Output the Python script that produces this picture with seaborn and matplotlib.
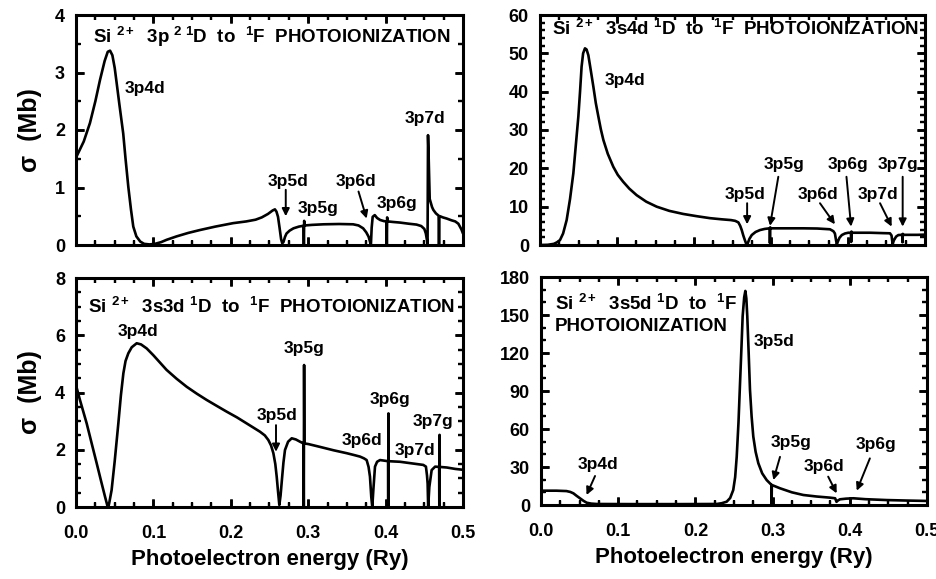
import matplotlib
matplotlib.use("Agg")
import matplotlib.pyplot as plt
from matplotlib.ticker import MultipleLocator
from matplotlib.transforms import blended_transform_factory
import seaborn as sns
import pandas as pd

# ---------------- data ----------------
x_3p2 = [0.000, 0.010, 0.018, 0.025, 0.031, 0.037, 0.041, 0.044, 0.047, 0.050, 0.0526, 0.056,
         0.061, 0.064, 0.0676, 0.071, 0.074, 0.078, 0.083, 0.088, 0.095, 0.102, 0.110, 0.117,
         0.130, 0.145, 0.160, 0.180, 0.203, 0.220, 0.232, 0.240, 0.248, 0.254, 0.257, 0.259,
         0.261, 0.263, 0.265, 0.2665, 0.268, 0.270, 0.272, 0.276, 0.281, 0.288, 0.2940, 0.2944,
         0.2948, 0.2955, 0.305, 0.320, 0.340, 0.358, 0.365, 0.371, 0.375, 0.378, 0.380, 0.381,
         0.382, 0.3833, 0.386, 0.389, 0.393, 0.398, 0.4012, 0.4016, 0.4020, 0.4028, 0.410,
         0.4186, 0.430, 0.440, 0.446, 0.450, 0.452, 0.4535, 0.4542, 0.4548, 0.4555, 0.4570,
         0.4600, 0.4617, 0.465, 0.4685, 0.4690, 0.4695, 0.4703, 0.474, 0.479, 0.485, 0.490,
         0.494, 0.498, 0.500]
y_3p2 = [1.52, 1.80, 2.12, 2.50, 2.87, 3.20, 3.36, 3.38, 3.30, 3.08, 2.81, 2.45,
         1.94, 1.50, 1.01, 0.62, 0.32, 0.15, 0.06, 0.02, 0.01, 0.02, 0.05, 0.09,
         0.15, 0.21, 0.26, 0.32, 0.38, 0.41, 0.44, 0.48, 0.54, 0.60, 0.62, 0.58,
         0.49, 0.30, 0.10, 0.03, 0.05, 0.14, 0.20, 0.25, 0.29, 0.32, 0.335, 0.0,
         0.42, 0.34, 0.35, 0.36, 0.365, 0.36, 0.34, 0.29, 0.22, 0.145, 0.05, 0.0,
         0.30, 0.49, 0.52, 0.47, 0.435, 0.415, 0.41, 0.0, 0.48, 0.41, 0.40,
         0.39, 0.37, 0.355, 0.33, 0.28, 0.20, 0.08, 0.02, 1.91, 1.60, 0.80,
         0.66, 0.61, 0.55, 0.51, 0.0, 0.50, 0.50, 0.48, 0.46, 0.43, 0.41,
         0.37, 0.27, 0.20]

x_3s4d = [0.000, 0.010, 0.018, 0.022, 0.026, 0.030, 0.0346, 0.039, 0.0433, 0.0465, 0.0498,
          0.052, 0.054, 0.056, 0.0584, 0.0605, 0.0628, 0.066, 0.0693, 0.0725, 0.0758, 0.079,
          0.0823, 0.088, 0.0952, 0.101, 0.108, 0.116, 0.1255, 0.138, 0.1515, 0.168, 0.186,
          0.204, 0.2208, 0.236, 0.248, 0.2535, 0.2576, 0.260, 0.262, 0.264, 0.266, 0.268,
          0.2695, 0.272, 0.275, 0.280, 0.2857, 0.292, 0.2983, 0.2986, 0.2990, 0.2995, 0.310,
          0.342, 0.360, 0.3766, 0.381, 0.383, 0.3845, 0.3855, 0.387, 0.389, 0.392, 0.396,
          0.4004, 0.4038, 0.4041, 0.4045, 0.4050, 0.4286, 0.445, 0.4545, 0.4565, 0.458,
          0.4595, 0.4625, 0.4654, 0.4705, 0.4708, 0.4712, 0.4716, 0.480, 0.490, 0.500]
y_3s4d = [0.0, 0.05, 0.3, 0.7, 1.3, 3.0, 6.5, 12.0, 18.7, 26.0, 33.5,
          40.0, 46.5, 50.0, 51.3, 51.0, 49.5, 45.5, 41.3, 37.0, 33.5, 30.2,
          27.4, 23.8, 20.4, 18.3, 16.5, 14.7, 13.0, 11.3, 10.0, 8.9, 8.1,
          7.5, 7.0, 6.7, 6.5, 6.3, 5.9, 5.0, 3.9, 2.5, 1.3, 0.2,
          0.3, 1.6, 2.6, 3.4, 3.9, 4.2, 4.35, 0.5, 4.6, 4.35, 4.35,
          4.35, 4.3, 4.1, 3.6, 3.0, 1.2, 0.2, 1.0, 1.9, 2.6, 3.0,
          3.2, 3.2, 0.8, 3.5, 3.2, 3.2, 3.1, 3.05, 2.5, 0.2,
          1.2, 2.2, 2.6, 2.65, 0.7, 2.9, 2.65, 2.65, 2.65, 2.7]

x_3s3d = [0.000, 0.005, 0.0138, 0.020, 0.0267, 0.032, 0.0375, 0.0405, 0.0418, 0.043, 0.046,
          0.050, 0.0547, 0.058, 0.0612, 0.064, 0.0676, 0.072, 0.0784, 0.084, 0.0913, 0.100,
          0.108, 0.117, 0.130, 0.143, 0.156, 0.1688, 0.182, 0.1947, 0.208, 0.2205, 0.230,
          0.2377, 0.244, 0.2485, 0.252, 0.255, 0.2575, 0.2593, 0.261, 0.2627, 0.2643, 0.266,
          0.268, 0.270, 0.274, 0.2787, 0.284, 0.2895, 0.2940, 0.2943, 0.2947, 0.2951, 0.300,
          0.3152, 0.333, 0.3497, 0.360, 0.367, 0.372, 0.3755, 0.378, 0.3798, 0.3815, 0.3828,
          0.3843, 0.3863, 0.389, 0.3928, 0.398, 0.4032, 0.4034, 0.4037, 0.4040, 0.4186, 0.435,
          0.4487, 0.4521, 0.4535, 0.4543, 0.4550, 0.4565, 0.4595, 0.464, 0.4692, 0.4694,
          0.4697, 0.4700, 0.479, 0.490, 0.500]
y_3s3d = [4.25, 3.75, 2.92, 2.25, 1.53, 0.95, 0.36, 0.05, 0.0, 0.15, 0.59,
          1.60, 2.92, 3.90, 4.67, 5.10, 5.37, 5.58, 5.72, 5.68, 5.54, 5.30,
          5.06, 4.79, 4.48, 4.20, 3.96, 3.74, 3.53, 3.33, 3.13, 2.92, 2.76,
          2.63, 2.50, 2.34, 2.15, 1.88, 1.50, 1.06, 0.55, 0.07, 0.40, 0.94,
          1.55, 1.99, 2.28, 2.40, 2.36, 2.28, 2.22, 0.0, 4.96, 2.22, 2.20,
          2.10, 1.98, 1.88, 1.81, 1.76, 1.70, 1.64, 1.40, 1.06, 0.35, 0.0,
          0.65, 1.41, 1.58, 1.64, 1.62, 1.60, 0.0, 3.27, 1.60, 1.58, 1.52,
          1.47, 1.41, 1.10, 0.82, 0.0, 0.70, 1.29, 1.41, 1.40, 0.0,
          2.52, 1.40, 1.38, 1.33, 1.30]

x_3s5d = [0.000, 0.020, 0.033, 0.038, 0.042, 0.046, 0.0505, 0.055, 0.0592, 0.065, 0.072,
          0.120, 0.180, 0.2276, 0.2340, 0.2405, 0.245, 0.249, 0.2515, 0.2535, 0.2558, 0.2578,
          0.2597, 0.2612, 0.2632, 0.2647, 0.2660, 0.2672, 0.2690, 0.2707, 0.2728, 0.275,
          0.278, 0.2815, 0.2865, 0.2923, 0.2985, 0.2987, 0.2990, 0.3096, 0.325, 0.3398,
          0.357, 0.3744, 0.381, 0.3828, 0.3845, 0.3873, 0.395, 0.4046, 0.420, 0.4478,
          0.475, 0.500]
y_3s5d = [11.3, 11.3, 11.0, 10.3, 9.2, 7.3, 5.3, 3.3, 1.8, 1.1, 0.8,
          0.7, 0.7, 0.8, 1.4, 2.6, 5.5, 11.8, 22, 38, 65, 96,
          125, 149, 164, 169, 163, 149, 120, 91, 70, 54,
          42, 33, 25, 19.7, 15.9, 0.5, 15.8, 13.2, 10.0, 7.9,
          6.7, 5.8, 5.3, 2.5, 3.5, 4.5, 5.0, 5.3, 4.6, 3.9,
          3.5, 3.2]

x_ticks = [0.0, 0.1, 0.2, 0.3, 0.4, 0.5]
x_tick_labels = ["0.0", "0.1", "0.2", "0.3", "0.4", "0.5"]

# ---------------- style ----------------
sns.set_theme(style="ticks")
plt.rcParams.update({
    "font.family": ["Liberation Sans", "DejaVu Sans"],
    "font.weight": "bold",
    "text.color": "black",
    "axes.labelcolor": "black",
    "axes.edgecolor": "black",
    "axes.axisbelow": False,
    "xtick.color": "black",
    "ytick.color": "black",
    "xtick.labelcolor": "black",
    "ytick.labelcolor": "black",
    "xtick.labelsize": 13,
    "ytick.labelsize": 13,
    "xtick.major.pad": 13,
    "ytick.major.pad": 8,
    "xtick.direction": "in",
    "ytick.direction": "in",
    "xtick.top": True,
    "ytick.right": True,
    "xtick.major.size": 6,
    "ytick.major.size": 6,
    "xtick.minor.size": 3.3,
    "ytick.minor.size": 3.3,
    "xtick.major.width": 1.8,
    "ytick.major.width": 1.8,
    "xtick.minor.width": 1.6,
    "ytick.minor.width": 1.6,
    "mathtext.fontset": "custom",
    "mathtext.rm": "Liberation Sans:bold",
    "mathtext.it": "Liberation Sans:bold",
    "mathtext.bf": "Liberation Sans:bold",
})

fig = plt.figure(figsize=(9.37, 5.79), dpi=100)
W, H = 937.0, 579.0


def make_ax(l, r, t, b):
    return fig.add_axes([l / W, 1 - b / H, (r - l) / W, (b - t) / H])


def frame_ticks(ax, xlim, ylim, maj_px=8.0, min_px=4.5):
    """Inward tick marks on all four sides, at the axis locators' positions."""
    pos = ax.get_position()
    wpx, hpx = pos.width * W, pos.height * H
    tx = blended_transform_factory(ax.transData, ax.transAxes)
    ty = blended_transform_factory(ax.transAxes, ax.transData)
    kw = dict(color="black", clip_on=False, zorder=6, solid_capstyle="butt")
    eps = 1e-9
    for locs, L, lw in ((ax.xaxis.get_majorticklocs(), maj_px, 1.9),
                        (ax.xaxis.get_minorticklocs(), min_px, 1.6)):
        for v in locs:
            if xlim[0] - eps <= v <= xlim[1] + eps:
                f = L / hpx
                ax.plot([v, v], [0, f], transform=tx, lw=lw, **kw)
                ax.plot([v, v], [1, 1 - f], transform=tx, lw=lw, **kw)
    for locs, L, lw in ((ax.yaxis.get_majorticklocs(), maj_px, 1.9),
                        (ax.yaxis.get_minorticklocs(), min_px, 1.6)):
        for v in locs:
            if ylim[0] - eps <= v <= ylim[1] + eps:
                f = L / wpx
                ax.plot([0, f], [v, v], transform=ty, lw=lw, **kw)
                ax.plot([1, 1 - f], [v, v], transform=ty, lw=lw, **kw)
    ax.set_xlim(*xlim)
    ax.set_ylim(*ylim)


axTL = make_ax(76, 463, 15, 245)
axTR = make_ax(540, 925, 15, 245)
axBL = make_ax(76, 463, 278, 507)
axBR = make_ax(541, 927, 277, 505)

panels = [
    (axTL, x_3p2, y_3p2, 4, 1, 0.5),
    (axTR, x_3s4d, y_3s4d, 60, 10, 2),
    (axBL, x_3s3d, y_3s3d, 8, 2, 0.5),
    (axBR, x_3s5d, y_3s5d, 180, 30, 10),
]

for ax, xs, ys, ymax, ymaj, ymin in panels:
    df = pd.DataFrame({"E": xs, "sigma": ys})
    sns.lineplot(data=df, x="E", y="sigma", ax=ax, color="black", lw=1.9,
                 sort=False, estimator=None)
    ax.set_xlim(0, 0.5)
    ax.set_ylim(0, ymax)
    ax.xaxis.set_major_locator(MultipleLocator(0.1))
    ax.xaxis.set_minor_locator(MultipleLocator(0.025))
    ax.yaxis.set_major_locator(MultipleLocator(ymaj))
    ax.yaxis.set_minor_locator(MultipleLocator(ymin))
    ax.tick_params(which="both", direction="in", top=True, right=True, color="black")
    for sp in ax.spines.values():
        sp.set_linewidth(2.2)
        sp.set_color("black")
        sp.set_visible(True)
        sp.set_zorder(7)
    ax.set_xlabel("")
    ax.set_ylabel("")
    frame_ticks(ax, (0, 0.5), (0, ymax))

for ax in (axTL, axTR):
    ax.tick_params(axis="x", which="both", labelbottom=False)
for ax in (axBL, axBR):
    ax.set_xticks(x_ticks)
    ax.set_xticklabels(x_tick_labels, fontweight="bold")
    ax.set_xlabel("Photoelectron energy (Ry)", fontsize=16, fontweight="bold",
                  labelpad=5, color="black")
for ax in (axTL, axBL):
    ax.set_ylabel("σ  (Mb)", fontsize=18, fontweight="bold", labelpad=9, color="black")
for ax, *_ in panels:
    for lab in ax.get_xticklabels() + ax.get_yticklabels():
        lab.set_fontweight("bold")

tkw = dict(fontsize=13.5, fontweight="bold", color="black", va="center", ha="left")
lkw = dict(fontsize=12.5, fontweight="bold", color="black", va="center", ha="left")
akw = dict(arrowstyle="-|>", lw=1.4, color="black", mutation_scale=11, shrinkA=0, shrinkB=0)

# titles
axTL.text(0.022, 3.62, r"Si $^{2+}$  3p $^{2\ 1}$D  to  $^{1}$F  PHOTOIONIZATION", **tkw)
axTR.text(0.015, 56.3, r"Si $^{2+}$  3s4d $^{1}$D  to  $^{1}$F  PHOTOIONIZATION", **tkw)
axBL.text(0.0155, 7.0, r"Si $^{2+}$  3s3d $^{1}$D  to  $^{1}$F  PHOTOIONIZATION", **tkw)
axBR.text(0.018, 159, r"Si $^{2+}$  3s5d $^{1}$D  to  $^{1}$F", **tkw)
axBR.text(0.018, 141, "PHOTOIONIZATION", **tkw)

# top-left annotations
axTL.text(0.063, 2.73, "3p4d", **lkw)
axTL.text(0.247, 1.10, "3p5d", **lkw)
axTL.annotate("", xy=(0.271, 0.50), xytext=(0.271, 0.96), arrowprops=akw)
axTL.text(0.287, 0.64, "3p5g", **lkw)
axTL.text(0.335, 1.10, "3p6d", **lkw)
axTL.annotate("", xy=(0.3755, 0.46), xytext=(0.365, 0.93), arrowprops=akw)
axTL.text(0.389, 0.73, "3p6g", **lkw)
axTL.text(0.425, 2.20, "3p7d", **lkw)

# top-right annotations
axTR.text(0.0844, 43, "3p4d", **lkw)
axTR.text(0.240, 13.3, "3p5d", **lkw)
axTR.annotate("", xy=(0.269, 5.4), xytext=(0.269, 10.9), arrowprops=akw)
axTR.text(0.290, 20.9, "3p5g", **lkw)
axTR.annotate("", xy=(0.2987, 5.0), xytext=(0.3095, 17.8), arrowprops=akw)
axTR.text(0.335, 13.3, "3p6d", **lkw)
axTR.annotate("", xy=(0.383, 5.4), xytext=(0.3636, 10.9), arrowprops=akw)
axTR.text(0.373, 20.9, "3p6g", **lkw)
axTR.annotate("", xy=(0.404, 4.8), xytext=(0.398, 17.8), arrowprops=akw)
axTR.text(0.413, 13.3, "3p7d", **lkw)
axTR.annotate("", xy=(0.4567, 4.8), xytext=(0.4416, 10.9), arrowprops=akw)
axTR.text(0.438, 20.9, "3p7g", **lkw)
axTR.annotate("", xy=(0.471, 4.8), xytext=(0.471, 17.8), arrowprops=akw)

# bottom-left annotations
axBL.text(0.054, 6.12, "3p4d", **lkw)
axBL.text(0.234, 3.21, "3p5d", **lkw)
axBL.annotate("", xy=(0.2584, 1.93), xytext=(0.2584, 2.86), arrowprops=akw)
axBL.text(0.268, 5.54, "3p5g", **lkw)
axBL.text(0.343, 2.34, "3p6d", **lkw)
axBL.text(0.380, 3.74, "3p6g", **lkw)
axBL.text(0.412, 1.99, "3p7d", **lkw)
axBL.text(0.4355, 2.98, "3p7g", **lkw)

# bottom-right annotations
axBR.text(0.275, 129, "3p5d", **lkw)
axBR.text(0.048, 31.6, "3p4d", **lkw)
axBR.annotate("", xy=(0.059, 7.9), xytext=(0.070, 22.9), arrowprops=akw)
axBR.text(0.297, 49, "3p5g", **lkw)
axBR.annotate("", xy=(0.301, 19.7), xytext=(0.3096, 38), arrowprops=akw)
axBR.text(0.340, 30.3, "3p6d", **lkw)
axBR.annotate("", xy=(0.383, 9.2), xytext=(0.372, 22.4), arrowprops=akw)
axBR.text(0.407, 47.9, "3p6g", **lkw)
axBR.annotate("", xy=(0.409, 11.3), xytext=(0.426, 36.8), arrowprops=akw)

fig.savefig("out.png", dpi=100, facecolor="white")
